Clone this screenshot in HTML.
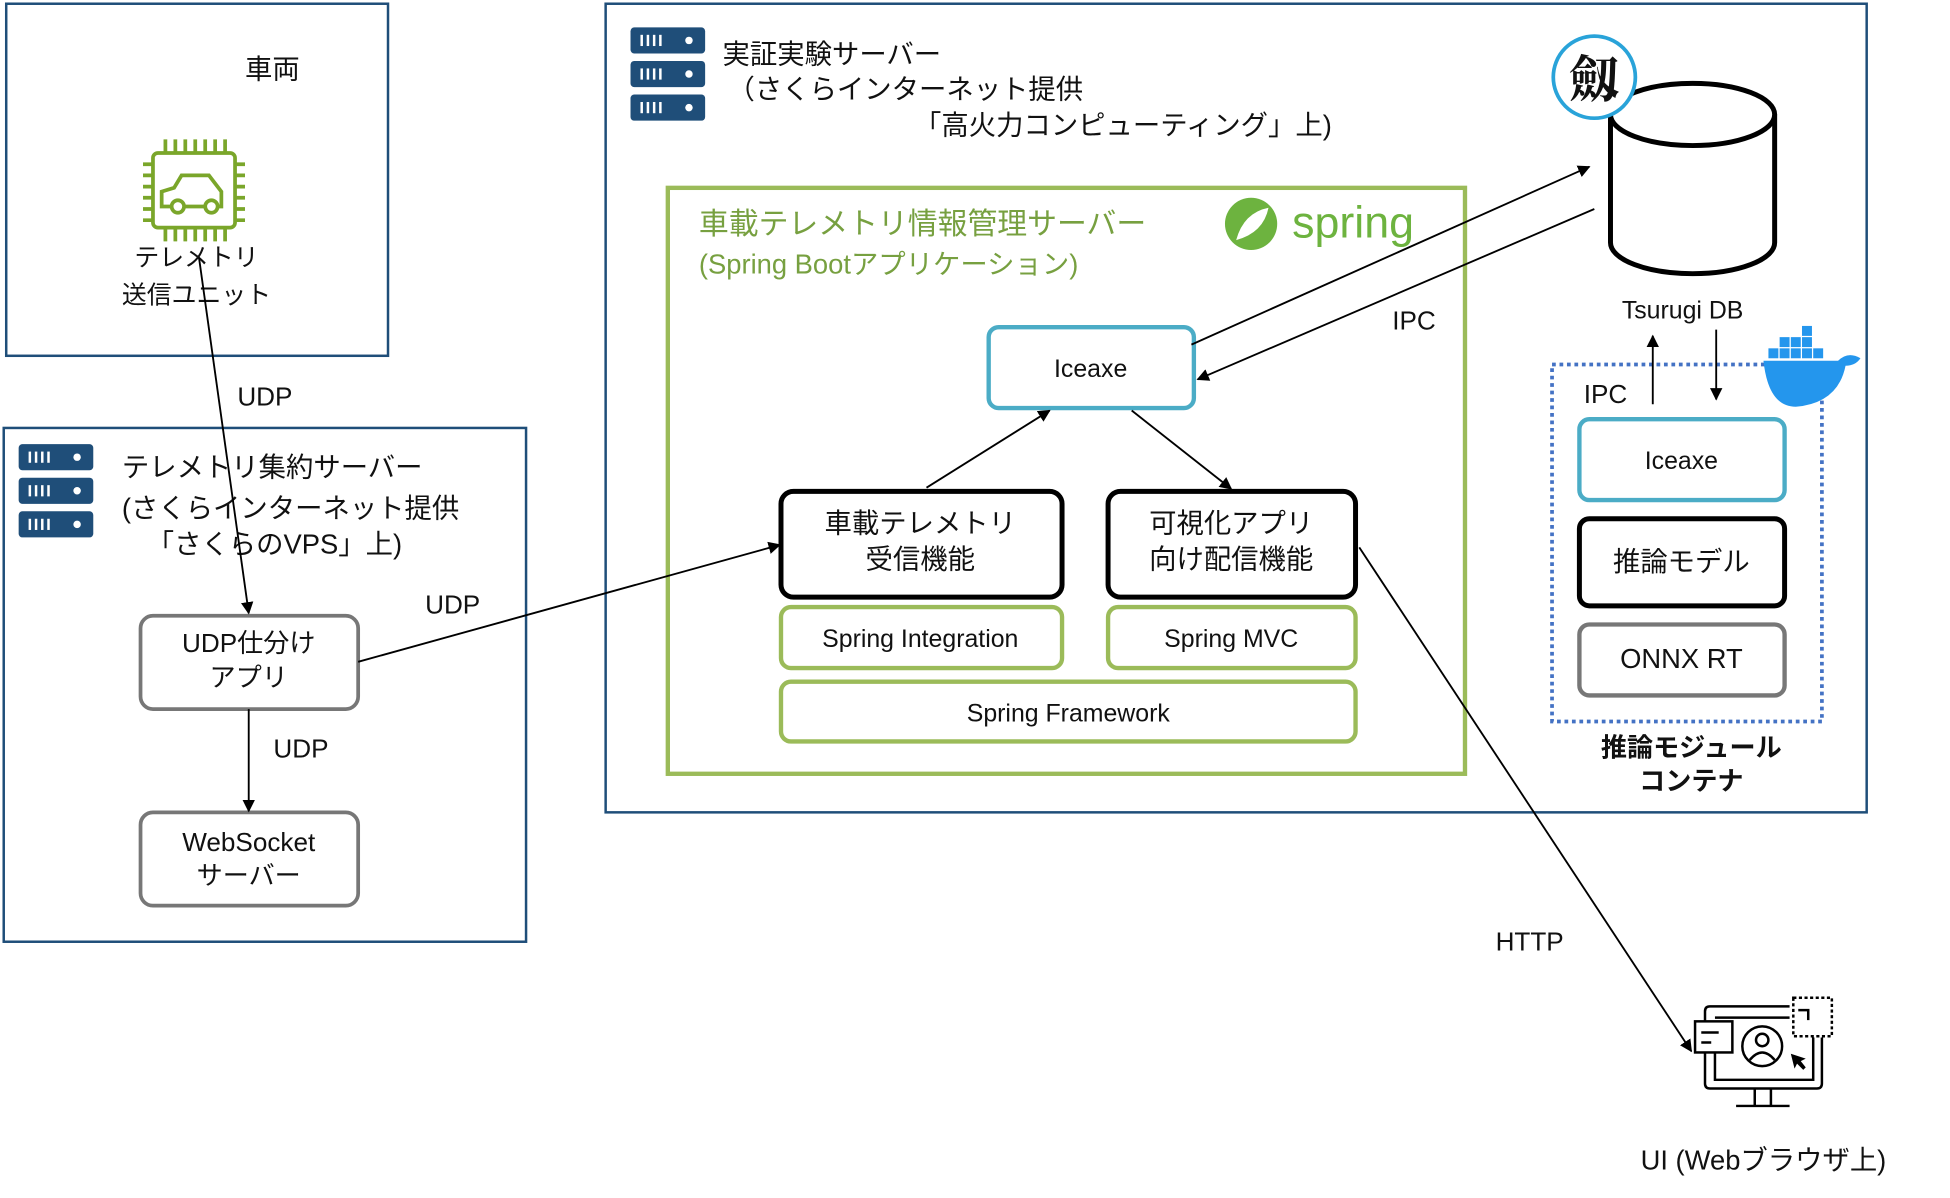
<!DOCTYPE html>
<html><head><meta charset="utf-8"><style>
html,body{margin:0;padding:0;background:#fff;}
svg{display:block;}
text{font-family:"Liberation Sans","Noto Sans CJK JP",sans-serif;fill:#111;}
</style></head><body>
<svg width="1950" height="1198" viewBox="0 0 1568 963" preserveAspectRatio="none" xmlns="http://www.w3.org/2000/svg">
<defs>
<marker id="ar" markerWidth="10" markerHeight="10" refX="9" refY="5" orient="auto" markerUnits="userSpaceOnUse"><path d="M0,0 L10,5 L0,10 z" fill="#000"/></marker>
<g id="srv">
<rect x="0" y="0" width="60" height="21" rx="3" fill="#1f4e79"/>
<rect x="0" y="27" width="60" height="21" rx="3" fill="#1f4e79"/>
<rect x="0" y="54" width="60" height="21" rx="3" fill="#1f4e79"/>
<g fill="#fff"><rect x="8" y="6" width="2" height="9"/><rect x="13" y="6" width="2" height="9"/><rect x="18" y="6" width="2" height="9"/><rect x="23" y="6" width="2" height="9"/><circle cx="47" cy="10.5" r="3"/>
<rect x="8" y="33" width="2" height="9"/><rect x="13" y="33" width="2" height="9"/><rect x="18" y="33" width="2" height="9"/><rect x="23" y="33" width="2" height="9"/><circle cx="47" cy="37.5" r="3"/>
<rect x="8" y="60" width="2" height="9"/><rect x="13" y="60" width="2" height="9"/><rect x="18" y="60" width="2" height="9"/><rect x="23" y="60" width="2" height="9"/><circle cx="47" cy="64.5" r="3"/></g>
</g>
</defs>

<!-- Vehicle -->
<rect x="5" y="3" width="307" height="283" fill="none" stroke="#1f4e79" stroke-width="2"/>
<text x="219" y="63" font-size="22" text-anchor="middle">車両</text>
<g stroke="#7aa62a" stroke-width="3" fill="none">
<rect x="123" y="123" width="66" height="60" rx="4"/>
<path d="M133,112v11M141,112v11M149,112v11M157,112v11M165,112v11M173,112v11M181,112v11 M133,183v11M141,183v11M149,183v11M157,183v11M165,183v11M173,183v11M181,183v11 M115,132h8M115,141h8M115,150h8M115,159h8M115,168h8M115,177h8 M189,132h8M189,141h8M189,150h8M189,159h8M189,168h8M189,177h8"/>
<path d="M130,166 v-12 l10,-3 l6,-10 h22 l10,13 v12 z"/>
<circle cx="143" cy="166" r="5" fill="#fff"/><circle cx="170" cy="166" r="5" fill="#fff"/>
</g>
<text x="158" y="214" font-size="20" text-anchor="middle">テレメトリ</text>
<text x="158" y="244" font-size="20" text-anchor="middle">送信ユニット</text>

<!-- Aggregation server -->
<rect x="3" y="344" width="420" height="413" fill="none" stroke="#1f4e79" stroke-width="2"/>
<use href="#srv" x="15" y="357"/>
<text x="98" y="383" font-size="22">テレメトリ集約サーバー</text>
<text x="98" y="416" font-size="22">(さくらインターネット提供</text>
<text x="118" y="445" font-size="22">「さくらのVPS」上)</text>
<rect x="113" y="495" width="175" height="75" rx="10" fill="#fff" stroke="#777" stroke-width="3"/>
<text x="200" y="524" font-size="21" text-anchor="middle">UDP仕分け</text>
<text x="200" y="552" font-size="21" text-anchor="middle">アプリ</text>
<rect x="113" y="653" width="175" height="75" rx="10" fill="#fff" stroke="#777" stroke-width="3"/>
<text x="200" y="684" font-size="21" text-anchor="middle">WebSocket</text>
<text x="200" y="711" font-size="21" text-anchor="middle">サーバー</text>
<line x1="200" y1="570" x2="200" y2="652" stroke="#000" stroke-width="1.5" marker-end="url(#ar)"/>
<text x="242" y="609" font-size="21" text-anchor="middle">UDP</text>
<line x1="160" y1="207" x2="200" y2="493" stroke="#000" stroke-width="1.5" marker-end="url(#ar)"/>
<text x="213" y="326" font-size="21" text-anchor="middle">UDP</text>

<!-- Main server -->
<rect x="487" y="3" width="1014" height="650" fill="none" stroke="#1f4e79" stroke-width="2"/>
<use href="#srv" x="507" y="22"/>
<text x="581" y="51" font-size="22">実証実験サーバー</text>
<text x="585" y="79" font-size="22">（さくらインターネット提供</text>
<text x="735" y="108" font-size="22">「高火力コンピューティング」上)</text>

<rect x="537" y="151" width="641" height="471" fill="none" stroke="#9bbb59" stroke-width="3.5"/>
<text x="562" y="188" font-size="24" style="fill:#77a040">車載テレメトリ情報管理サーバー</text>
<text x="562" y="220" font-size="22" style="fill:#77a040">(Spring Bootアプリケーション)</text>
<circle cx="1006" cy="180" r="21" fill="#6db33f"/>
<path d="M994,193 q6,-22 26,-26 q-4,20 -26,26z" fill="#fff"/>
<text x="1039" y="191" font-size="36" style="fill:#6db33f">spring</text>

<rect x="795" y="263" width="165" height="65" rx="8" fill="#fff" stroke="#4bacc6" stroke-width="3.5"/>
<text x="877" y="303" font-size="20" text-anchor="middle">Iceaxe</text>
<rect x="628" y="395" width="226" height="85" rx="10" fill="#fff" stroke="#000" stroke-width="4"/>
<text x="740" y="428" font-size="22" text-anchor="middle">車載テレメトリ</text>
<text x="740" y="457" font-size="22" text-anchor="middle">受信機能</text>
<rect x="891" y="395" width="199" height="85" rx="10" fill="#fff" stroke="#000" stroke-width="4"/>
<text x="990" y="428" font-size="22" text-anchor="middle">可視化アプリ</text>
<text x="990" y="457" font-size="22" text-anchor="middle">向け配信機能</text>
<rect x="628" y="488" width="226" height="49" rx="8" fill="#fff" stroke="#9bbb59" stroke-width="3.5"/>
<text x="740" y="520" font-size="20" text-anchor="middle">Spring Integration</text>
<rect x="891" y="488" width="199" height="49" rx="8" fill="#fff" stroke="#9bbb59" stroke-width="3.5"/>
<text x="990" y="520" font-size="20" text-anchor="middle">Spring MVC</text>
<rect x="628" y="548" width="462" height="48" rx="8" fill="#fff" stroke="#9bbb59" stroke-width="3.5"/>
<text x="859" y="580" font-size="20" text-anchor="middle">Spring Framework</text>
<line x1="745" y1="392" x2="844" y2="330" stroke="#000" stroke-width="1.5" marker-end="url(#ar)"/>
<line x1="910" y1="330" x2="990" y2="393" stroke="#000" stroke-width="1.5" marker-end="url(#ar)"/>
<line x1="288" y1="532" x2="627" y2="438" stroke="#000" stroke-width="1.5" marker-end="url(#ar)"/>
<text x="364" y="493" font-size="21" text-anchor="middle">UDP</text>

<!-- IPC lines -->
<line x1="958" y1="277" x2="1278" y2="134" stroke="#000" stroke-width="1.5" marker-end="url(#ar)"/>
<line x1="1282" y1="168" x2="963" y2="305" stroke="#000" stroke-width="1.5" marker-end="url(#ar)"/>
<text x="1137" y="265" font-size="21" text-anchor="middle">IPC</text>

<!-- DB -->
<path d="M1295,92 v103 a66,25 0 0 0 132,0 v-103" fill="#fff" stroke="#000" stroke-width="4"/>
<ellipse cx="1361" cy="92" rx="66" ry="25" fill="#fff" stroke="#000" stroke-width="4"/>
<circle cx="1282" cy="62" r="33" fill="#fff" stroke="#29a3d9" stroke-width="3"/>
<text x="1282" y="78" font-size="40" font-weight="bold" text-anchor="middle" style="font-family:'Noto Serif CJK SC',serif">劔</text>
<text x="1353" y="256" font-size="20" text-anchor="middle">Tsurugi DB</text>

<!-- Container -->
<rect x="1248" y="293" width="217" height="287" fill="none" stroke="#4472c4" stroke-width="3" stroke-dasharray="3,3"/>
<g fill="#2496ed">
<path d="M1418,290 h60 q8,-8 18,-2 q-4,6 -12,6 q-6,30 -40,33 q-22,0 -26,-37z"/>
<rect x="1422" y="280" width="8" height="8"/><rect x="1431" y="280" width="8" height="8"/><rect x="1440" y="280" width="8" height="8"/><rect x="1449" y="280" width="8" height="8"/><rect x="1458" y="280" width="8" height="8"/>
<rect x="1431" y="271" width="8" height="8"/><rect x="1440" y="271" width="8" height="8"/><rect x="1449" y="271" width="8" height="8"/>
<rect x="1449" y="262" width="8" height="8"/>
</g>
<line x1="1329" y1="325" x2="1329" y2="270" stroke="#000" stroke-width="1.5" marker-end="url(#ar)"/>
<line x1="1380" y1="265" x2="1380" y2="321" stroke="#000" stroke-width="1.5" marker-end="url(#ar)"/>
<text x="1291" y="324" font-size="21" text-anchor="middle">IPC</text>
<rect x="1270" y="337" width="165" height="65" rx="8" fill="#fff" stroke="#4bacc6" stroke-width="3.5"/>
<text x="1352" y="377" font-size="20" text-anchor="middle">Iceaxe</text>
<rect x="1270" y="417" width="165" height="70" rx="8" fill="#fff" stroke="#000" stroke-width="4"/>
<text x="1352" y="459" font-size="22" text-anchor="middle">推論モデル</text>
<rect x="1270" y="502" width="165" height="57" rx="8" fill="#fff" stroke="#777" stroke-width="3.5"/>
<text x="1352" y="537" font-size="22" text-anchor="middle">ONNX RT</text>
<text x="1360" y="608" font-size="21" font-weight="bold" text-anchor="middle">推論モジュール</text>
<text x="1360" y="635" font-size="21" font-weight="bold" text-anchor="middle">コンテナ</text>

<!-- HTTP -->
<line x1="1093" y1="440" x2="1360" y2="845" stroke="#000" stroke-width="1.5" marker-end="url(#ar)"/>
<text x="1230" y="764" font-size="21" text-anchor="middle">HTTP</text>

<!-- UI icon -->
<g stroke="#000" stroke-width="2" fill="none">
<path d="M1371,822 v-9 q0,-4 4,-4 h64"/>
<path d="M1465,834 v37 q0,4 -4,4 h-86 q-4,0 -4,-4 v-25"/>
<path d="M1379,818 h60"/>
<path d="M1458,834 v34 h-79 v-22"/>
<rect x="1442" y="802" width="31" height="31" stroke-dasharray="2.5,2"/>
<path d="M1446,812 h8 v8" />
<rect x="1363" y="821" width="30" height="25" fill="#fff"/>
<line x1="1368" y1="830" x2="1382" y2="830"/><line x1="1368" y1="838" x2="1376" y2="838"/>
<circle cx="1417" cy="841" r="16"/>
<circle cx="1417" cy="836" r="5"/>
<path d="M1407,852 q10,-12 20,0"/>
<line x1="1411" y1="875" x2="1411" y2="889"/><line x1="1424" y1="875" x2="1424" y2="889"/>
<line x1="1396" y1="889" x2="1439" y2="889"/>
</g>
<path d="M1440,847 l12,4 l-4,2 l4,5 l-2,2 l-5,-5 l-2,4 z" fill="#000"/>
<text x="1418" y="940" font-size="22" text-anchor="middle">UI (Webブラウザ上)</text>
</svg>
</body></html>
